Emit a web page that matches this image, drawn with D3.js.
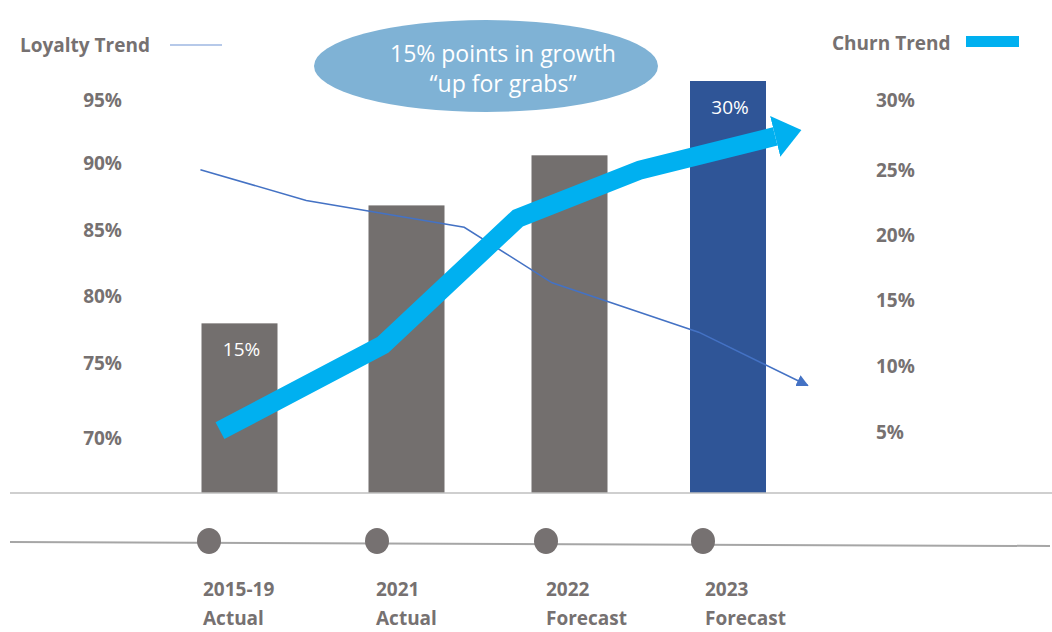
<!DOCTYPE html>
<html>
<head>
<meta charset="utf-8">
<script src="https://cdn.jsdelivr.net/npm/d3@7"></script>
<style>
  body { margin: 0; background: #fff; }
  svg { display: block; font-family: "Open Sans", sans-serif; }
</style>
</head>
<body>
<svg id="chart" width="1052" height="632"></svg>
<script>
// data
const categoryYears = ["2015-19", "2021", "2022", "2023"];
const categoryKinds = ["Actual", "Actual", "Forecast", "Forecast"];
const barValues = [15, 22.3, 25.4, 30];
const barLabels = ["15%", "", "", "30%"];
const leftTicks = [70, 75, 80, 85, 90, 95];
const rightTicks = [5, 10, 15, 20, 25, 30];
// loyalty trend (left axis), positions in category units
const loyaltyPos = [-0.24, 0.41, 1.38, 1.92, 2.82, 3.49];
const loyaltyValues = [89.5, 87.2, 85.2, 81.0, 77.3, 73.5];
// churn trend (right axis)
const churnPos = [-0.12, 0.88, 1.71, 2.46, 3.29];
const churnValues = [5.1, 11.6, 21.3, 25.0, 27.4];
const calloutLines = ["15% points in growth", "\u201cup for grabs\u201d"];

const gray = "#767171";
const svg = d3.select("#chart");

// bar centres are not evenly spaced in the original
const x = d3.scaleOrdinal().domain(categoryYears).range([239.5, 406.5, 569.5, 728]);
const xPos = d3.scaleLinear().domain([0, 3]).range([239.5, 728]);
const yLeft = d3.scaleLinear().domain(leftTicks).range([438, 363, 296, 230, 163, 100]);
const yRight = d3.scaleLinear().domain(rightTicks).range([432, 366, 300, 235, 170, 100]);
const yBar = d3.scaleLinear().domain([4.5, 30]).range([493, 81]);
const timeline = d3.scaleOrdinal().domain(categoryYears).range([203, 376, 546, 705]);
const dotX = d3.scaleOrdinal().domain(categoryYears).range([209, 377, 546, 703]);
const barW = 76;

// markers
const defs = svg.append("defs");
defs.append("marker").attr("id", "bigArrow")
  .attr("markerUnits", "userSpaceOnUse")
  .attr("viewBox", "0 -21 27 42").attr("refX", 0).attr("refY", 0)
  .attr("markerWidth", 27).attr("markerHeight", 42).attr("orient", "auto")
  .append("path").attr("d", "M0,-21L27,0L0,21Z").attr("fill", "#00B0F0");
defs.append("marker").attr("id", "smallArrow")
  .attr("markerUnits", "userSpaceOnUse")
  .attr("viewBox", "0 -6 12 12").attr("refX", 11).attr("refY", 0)
  .attr("markerWidth", 12).attr("markerHeight", 12).attr("orient", "auto")
  .append("path").attr("d", "M0,-6L12,0L0,6Z").attr("fill", "#4472C4");

// bars
svg.selectAll("rect.bar").data(barValues).join("rect")
  .attr("class", "bar")
  .attr("x", (d, i) => x(categoryYears[i]) - barW / 2)
  .attr("y", d => yBar(d))
  .attr("width", barW)
  .attr("height", d => yBar.range()[0] - yBar(d))
  .attr("fill", (d, i) => i === barValues.length - 1 ? "#2F5597" : "#736F6E");

svg.selectAll("text.barlab").data(barLabels).join("text")
  .attr("class", "barlab")
  .attr("x", (d, i) => x(categoryYears[i]) + 2)
  .attr("y", (d, i) => yBar(barValues[i]) + 33)
  .attr("text-anchor", "middle")
  .attr("fill", "#fff").attr("font-size", 19)
  .text(d => d);

// baseline
svg.append("line").attr("x1", 10).attr("x2", 1052)
  .attr("y1", yBar.range()[0]).attr("y2", yBar.range()[0])
  .attr("stroke", "#BFBFBF").attr("stroke-width", 1.5);

// loyalty line
const loyaltyLine = d3.line().x(d => xPos(d[0])).y(d => yLeft(d[1]));
svg.append("path")
  .datum(d3.zip(loyaltyPos, loyaltyValues))
  .attr("d", loyaltyLine)
  .attr("fill", "none").attr("stroke", "#4472C4").attr("stroke-width", 1.5)
  .attr("marker-end", "url(#smallArrow)");

// churn line
const churnLine = d3.line().x(d => xPos(d[0])).y(d => yRight(d[1]));
svg.append("path")
  .datum(d3.zip(churnPos, churnValues))
  .attr("d", churnLine)
  .attr("fill", "none").attr("stroke", "#00B0F0").attr("stroke-width", 19)
  .attr("stroke-linejoin", "miter")
  .attr("marker-end", "url(#bigArrow)");

// axes
const axL = svg.append("g").attr("transform", "translate(122,0)")
  .call(d3.axisLeft(yLeft).tickValues(leftTicks).tickFormat(d => d + "%").tickSize(0).tickPadding(0));
const axR = svg.append("g").attr("transform", "translate(876,0)")
  .call(d3.axisRight(yRight).tickValues(rightTicks).tickFormat(d => d + "%").tickSize(0).tickPadding(0));
[axL, axR].forEach(g => {
  g.select(".domain").remove();
  g.selectAll("text").attr("font-family", "'Open Sans', sans-serif")
    .attr("font-size", 19).attr("font-weight", 700).attr("fill", gray);
  g.attr("font-family", null);
});

// callout ellipse
svg.append("ellipse").attr("cx", 486).attr("cy", 66).attr("rx", 172).attr("ry", 46)
  .attr("fill", "#7FB2D5");
svg.selectAll("text.callout").data(calloutLines).join("text")
  .attr("class", "callout")
  .attr("x", 503).attr("y", (d, i) => 62 + i * 30)
  .attr("text-anchor", "middle").attr("fill", "#fff").attr("font-size", 23)
  .text(d => d);

// legends
svg.append("text").attr("x", 20).attr("y", 52)
  .attr("font-size", 19).attr("font-weight", 700).attr("fill", gray)
  .text("Loyalty Trend");
svg.append("line").attr("x1", 170).attr("x2", 222).attr("y1", 45).attr("y2", 45)
  .attr("stroke", "#6F93D3").attr("stroke-width", 1.2);
svg.append("text").attr("x", 832).attr("y", 50)
  .attr("font-size", 19).attr("font-weight", 700).attr("fill", gray)
  .text("Churn Trend");
svg.append("rect").attr("x", 966).attr("y", 36).attr("width", 53).attr("height", 11)
  .attr("fill", "#00B0F0");

// timeline
svg.append("line").attr("x1", 10).attr("x2", 1050).attr("y1", 542).attr("y2", 546)
  .attr("stroke", "#A6A6A6").attr("stroke-width", 2);
svg.selectAll("ellipse.dot").data(categoryYears).join("ellipse")
  .attr("class", "dot")
  .attr("cx", d => dotX(d)).attr("cy", 541)
  .attr("rx", 12).attr("ry", 13).attr("fill", gray);

const lab = svg.selectAll("text.cat").data(categoryYears).join("text")
  .attr("class", "cat")
  .attr("font-size", 19).attr("font-weight", 700).attr("fill", gray);
lab.append("tspan").attr("x", d => timeline(d)).attr("y", 596).text(d => d);
lab.append("tspan").attr("x", d => timeline(d)).attr("y", 625).text((d, i) => categoryKinds[i]);
</script>
</body>
</html>
